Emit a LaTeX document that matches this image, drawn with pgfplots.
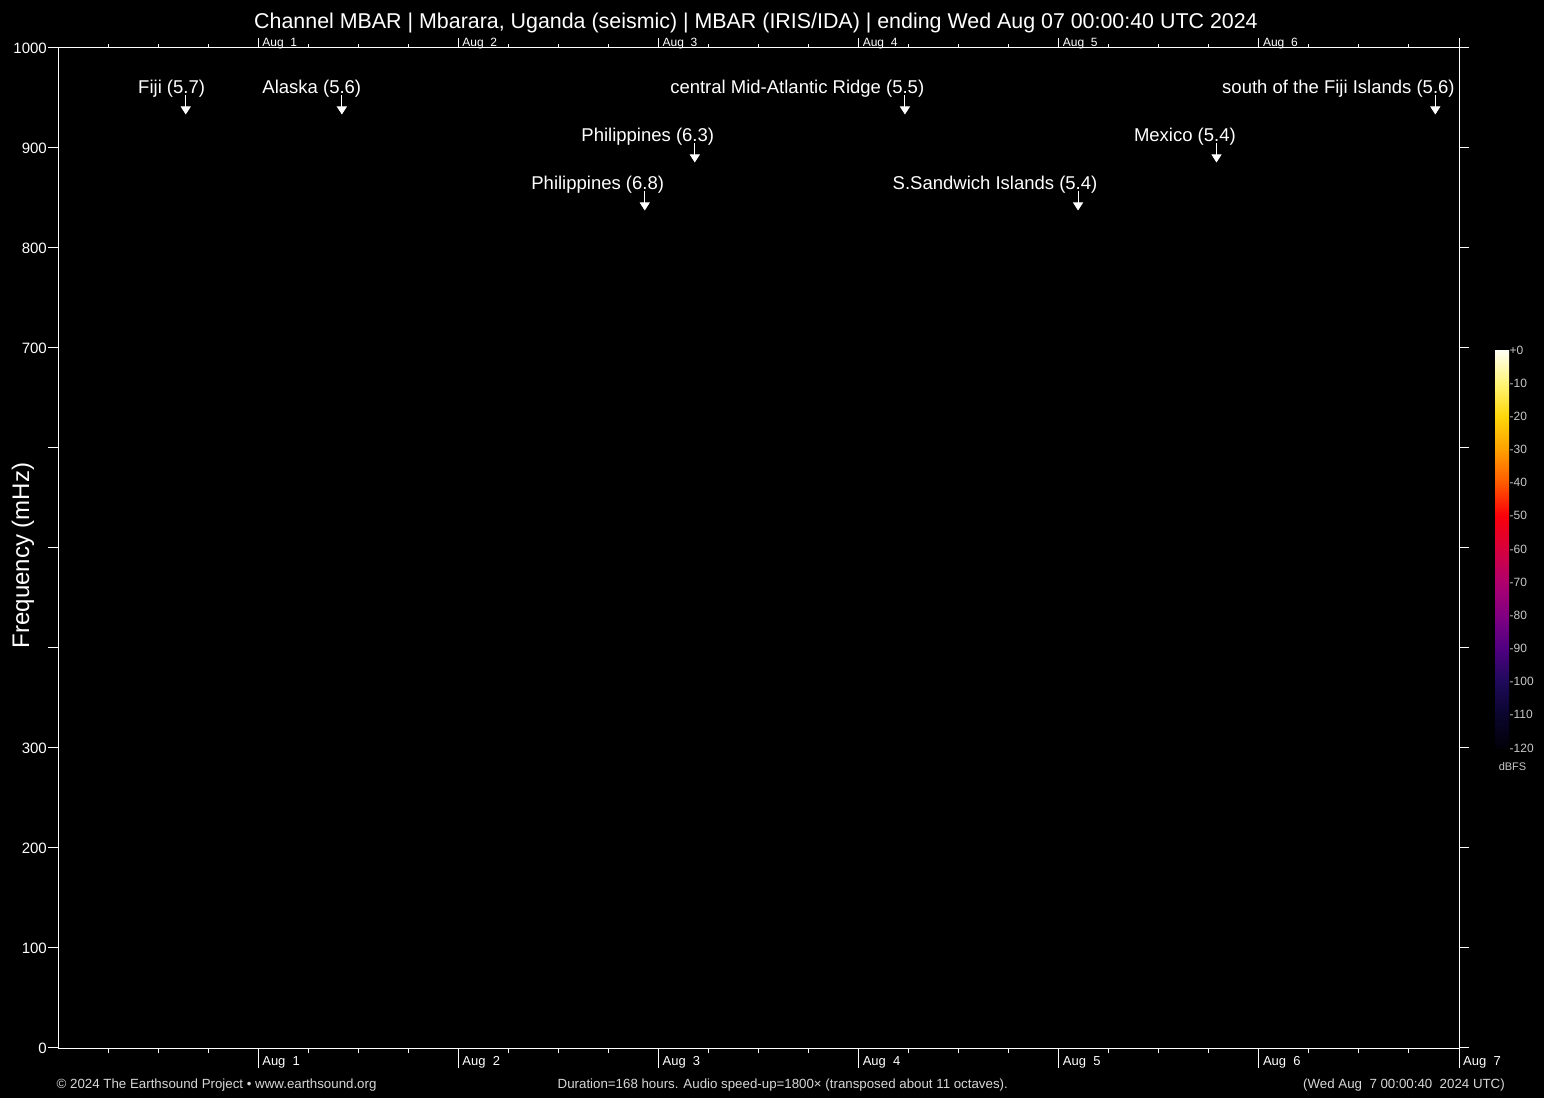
\documentclass[border=0pt]{standalone}
\usepackage{pgfplots}
\pgfplotsset{compat=1.18}
\usepackage{fontspec}
\setmainfont{Liberation Sans}
\usetikzlibrary{arrows.meta}
\newcommand{\fs}[1]{\fontsize{#1bp}{#1bp}\selectfont}
\definecolor{footgray}{RGB}{215,215,215}
\definecolor{cbgray}{RGB}{200,200,200}

\pgfplotstableread{
t f v
15.32 953 -19.5
34.04 953 -19.5
101.56 953 -19.5
165.16 953 -19.5
76.36 905 -19.5
138.92 905 -19.5
70.36 857 -19.5
122.32 857 -19.5
}\arrowdata

\begin{document}
\begin{tikzpicture}
\fill[black] (0,0) rectangle (1544bp,1098bp);

% bottom axis line and ticks
\begin{axis}[
  at={(58bp,50bp)}, anchor=south west, scale only axis,
  width=1401bp, height=1000bp,
  xmin=0, xmax=168, ymin=0, ymax=1000,
  axis x line*=bottom, axis y line=none,
  axis line style={white, line width=1bp, -},
  tick align=outside,
  xtick={24,48,72,96,120,144,168},
  xticklabels={Aug~~1,Aug~~2,Aug~~3,Aug~~4,Aug~~5,Aug~~6,Aug~~7},
  minor xtick={6,12,18,30,36,42,54,60,66,78,84,90,102,108,114,126,132,138,150,156,162},
  major tick length=20bp, minor tick length=5bp,
  tick style={white, line width=1bp},
  xticklabel style={anchor=base west, font=\fs{13}, text=white, inner sep=0pt, xshift=4bp, yshift=2.3bp},
]
\end{axis}

% top axis line and ticks
\begin{axis}[
  at={(58bp,50bp)}, anchor=south west, scale only axis,
  width=1401bp, height=1000bp,
  xmin=0, xmax=168, ymin=0, ymax=1000,
  axis x line*=top, axis y line=none,
  axis line style={white, line width=1bp, -},
  tick align=outside,
  xtick={24,48,72,96,120,144,168},
  xticklabels={Aug~~1,Aug~~2,Aug~~3,Aug~~4,Aug~~5,Aug~~6,{}},
  minor xtick={6,12,18,30,36,42,54,60,66,78,84,90,102,108,114,126,132,138,150,156,162},
  major tick length=10bp, minor tick length=3.5bp,
  tick style={white, line width=1bp},
  xticklabel style={anchor=base west, font=\fs{12}, text=white, inner sep=0pt, xshift=4bp, yshift=-8.5bp},
]
\end{axis}

% main axis: y lines, labels, events, colorbar
\begin{axis}[
  at={(58bp,50bp)}, anchor=south west, scale only axis,
  width=1401bp, height=1000bp,
  xmin=0, xmax=168, ymin=0, ymax=1000,
  axis x line=none, axis y line=box,
  axis line style={white, line width=1bp, -},
  tick align=outside, major tick length=10bp,
  tick style={white, line width=1bp},
  ytick={0,100,200,300,400,500,600,700,800,900,1000},
  yticklabels={0,100,200,300,{},{},{},700,800,900,1000},
  yticklabel style={anchor=east, font=\fs{15}, text=white, inner sep=0pt, xshift=-1bp},
  ylabel={Frequency (mHz)},
  ylabel style={at={(axis description cs:-0.025,0.4925)}, anchor=center, font=\fs{24}, text=white, inner sep=0pt},
  title={Channel MBAR | Mbarara, Uganda (seismic) | MBAR (IRIS/IDA) | ending Wed Aug 07 00:00:40 UTC 2024},
  title style={at={(axis description cs:0.4982,1.0135)}, anchor=base, font=\fs{21.4}, text=white, inner sep=0pt, yshift=0pt},
  colormap={fire}{rgb255=(2,0,8) rgb255=(10,5,45) rgb255=(30,10,90) rgb255=(80,0,130) rgb255=(130,0,130) rgb255=(175,0,110) rgb255=(215,0,60) rgb255=(250,0,10) rgb255=(255,90,0) rgb255=(255,160,0) rgb255=(255,215,10) rgb255=(255,245,120) rgb255=(255,255,245)},
  point meta min=-120, point meta max=0,
  colorbar,
  colorbar style={
    at={(1.0257,0.698)}, anchor=north west,
    scale only axis, width=14bp, height=398bp,
    axis line style={draw=none},
    tick style={draw=none}, major tick length=0pt,
    ytick={-120,-110,-100,-90,-80,-70,-60,-50,-40,-30,-20,-10,0},
    yticklabels={{-120},{-110},{-100},{-90},{-80},{-70},{-60},{-50},{-40},{-30},{-20},{-10},{+0}},
    yticklabel pos=right,
    yticklabel style={anchor=west, font=\fs{12}, text=cbgray, inner sep=0pt, xshift=0.5bp},
    ylabel={}, title={},
  },
]
\addplot[white, line width=1bp, -{Triangle[width=10bp,length=8bp]}, quiver={u=0, v=\thisrow{v}}] table[x=t, y=f] {\arrowdata};

\node[anchor=base east, font=\fs{18.5}, text=white, inner sep=0pt, xshift=19.5bp] at (axis cs:15.32,954.5) {Fiji (5.7)};
\node[anchor=base east, font=\fs{18.5}, text=white, inner sep=0pt, xshift=19.5bp] at (axis cs:34.04,954.5) {Alaska (5.6)};
\node[anchor=base east, font=\fs{18.5}, text=white, inner sep=0pt, xshift=19.5bp] at (axis cs:101.56,954.5) {central Mid-Atlantic Ridge (5.5)};
\node[anchor=base east, font=\fs{18.5}, text=white, inner sep=0pt, xshift=19.5bp] at (axis cs:165.16,954.5) {south of the Fiji Islands (5.6)};
\node[anchor=base east, font=\fs{18.5}, text=white, inner sep=0pt, xshift=19.5bp] at (axis cs:76.36,906.5) {Philippines (6.3)};
\node[anchor=base east, font=\fs{18.5}, text=white, inner sep=0pt, xshift=19.5bp] at (axis cs:138.92,906.5) {Mexico (5.4)};
\node[anchor=base east, font=\fs{18.5}, text=white, inner sep=0pt, xshift=19.5bp] at (axis cs:70.36,858.5) {Philippines (6.8)};
\node[anchor=base east, font=\fs{18.5}, text=white, inner sep=0pt, xshift=19.5bp] at (axis cs:122.32,858.5) {S.Sandwich Islands (5.4)};
\end{axis}

\node[anchor=center, font=\fs{11}, text=cbgray, inner sep=0pt] at (1512.5bp,331bp) {dBFS};
\node[anchor=base west, font=\fs{13.3}, text=footgray, inner sep=0pt] at (56.5bp,10bp) {© 2024 The Earthsound Project • www.earthsound.org};
\node[anchor=base west, font=\fs{13.3}, text=footgray, inner sep=0pt] at (557.5bp,10bp) {Duration=168 hours. Audio speed-up=1800× (transposed about 11 octaves).};
\node[anchor=base east, font=\fs{13.3}, text=footgray, inner sep=0pt] at (1505bp,10bp) {(Wed Aug\ \ 7 00:00:40\ \ 2024 UTC)};

\pgfresetboundingbox
\path[use as bounding box] (0,0) rectangle (1544bp,1098bp);
\end{tikzpicture}
\end{document}
